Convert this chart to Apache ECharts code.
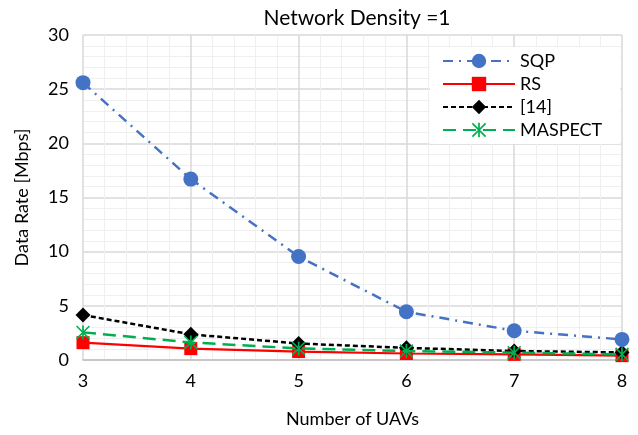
<!DOCTYPE html>
<html><head><meta charset="utf-8">
<script src="https://cdn.jsdelivr.net/npm/echarts@6/dist/echarts.min.js"></script>
<style>html,body{margin:0;padding:0;background:#fff}#c{width:638px;height:435px}</style>
</head><body><div id="c"></div>
<script>
const uavs = [3, 4, 5, 6, 7, 8];
const sqp = [25.6, 16.7, 9.55, 4.45, 2.7, 1.9];
const rs = [1.6, 1.05, 0.78, 0.6, 0.52, 0.4];
const ref14 = [4.15, 2.37, 1.52, 1.12, 0.83, 0.7];
const maspect = [2.55, 1.62, 1.07, 0.83, 0.68, 0.52];
const titleText = 'Network Density =1';
const xName = 'Number of UAVs';
const yName = 'Data Rate [Mbps]';

const font = 'Lato, "Open Sans", sans-serif';
const star = 'path://M4.4,0 L5.6,0 L5.6,10 L4.4,10 Z M0,0.8 L0.8,0 L10,9.2 L9.2,10 Z M9.2,0 L10,0.8 L0.8,10 L0,9.2 Z';
const pairs = a => a.map((v, i) => [uavs[i], v]);

const chart = echarts.init(document.getElementById('c'), null, {renderer: 'canvas'});
chart.setOption({
  animation: false,
  backgroundColor: '#fff',
  title: {text: titleText, left: 352, top: 3, textAlign: 'center',
    textStyle: {fontFamily: font, fontSize: 21, fontWeight: 'normal', color: '#000'}},
  grid: {left: 83, right: 16, top: 35, bottom: 75},
  legend: {
    orient: 'vertical', left: 430, top: 47, itemWidth: 72, itemHeight: 18, itemGap: 5,
    backgroundColor: '#fff', padding: [5, 18, 5, 12],
    textStyle: {fontFamily: font, fontSize: 18, color: '#000'},
    data: ['SQP', 'RS', '[14]', 'MASPECT']
  },
  xAxis: {
    type: 'value', min: 3, max: 8, interval: 1,
    name: xName, nameLocation: 'middle', nameGap: 50,
    nameTextStyle: {fontFamily: font, fontSize: 18, color: '#000'},
    axisLine: {show: true, lineStyle: {color: '#bfbfbf', width: 1.5}},
    axisTick: {show: false},
    axisLabel: {fontFamily: font, fontSize: 18, color: '#000', margin: 12},
    splitLine: {show: true, lineStyle: {color: '#d9d9d9', width: 1.5}},
    minorTick: {show: false, splitNumber: 5},
    minorSplitLine: {show: true, lineStyle: {color: '#efefef', width: 1}}
  },
  yAxis: {
    type: 'value', min: 0, max: 30, interval: 5,
    name: yName, nameLocation: 'middle', nameGap: 52,
    nameTextStyle: {fontFamily: font, fontSize: 18, color: '#000'},
    axisLine: {show: false}, axisTick: {show: false},
    axisLabel: {fontFamily: font, fontSize: 18, color: '#000', margin: 14},
    splitLine: {show: true, lineStyle: {color: '#d9d9d9', width: 1.5}},
    minorTick: {show: false, splitNumber: 5},
    minorSplitLine: {show: true, lineStyle: {color: '#efefef', width: 1}}
  },
  series: [
    {name: 'SQP', type: 'line', data: pairs(sqp), symbol: 'circle', symbolSize: 15,
      itemStyle: {color: '#4472C4'},
      lineStyle: {color: '#4472C4', width: 2.5, type: [10, 6, 2, 6]}, z: 4},
    {name: 'RS', type: 'line', data: pairs(rs), symbol: 'rect', symbolSize: 13,
      itemStyle: {color: '#FF0000'},
      lineStyle: {color: '#FF0000', width: 2.2, type: 'solid'}, z: 2},
    {name: '[14]', type: 'line', data: pairs(ref14), symbol: 'diamond', symbolSize: 15,
      itemStyle: {color: '#000'},
      lineStyle: {color: '#000', width: 2.5, type: [5, 3]}, z: 3},
    {name: 'MASPECT', type: 'line', data: pairs(maspect), symbol: star, symbolSize: 14,
      itemStyle: {color: '#00B050'},
      lineStyle: {color: '#00B050', width: 2.5, type: [13, 7]}, z: 5}
  ]
});
</script></body></html>
